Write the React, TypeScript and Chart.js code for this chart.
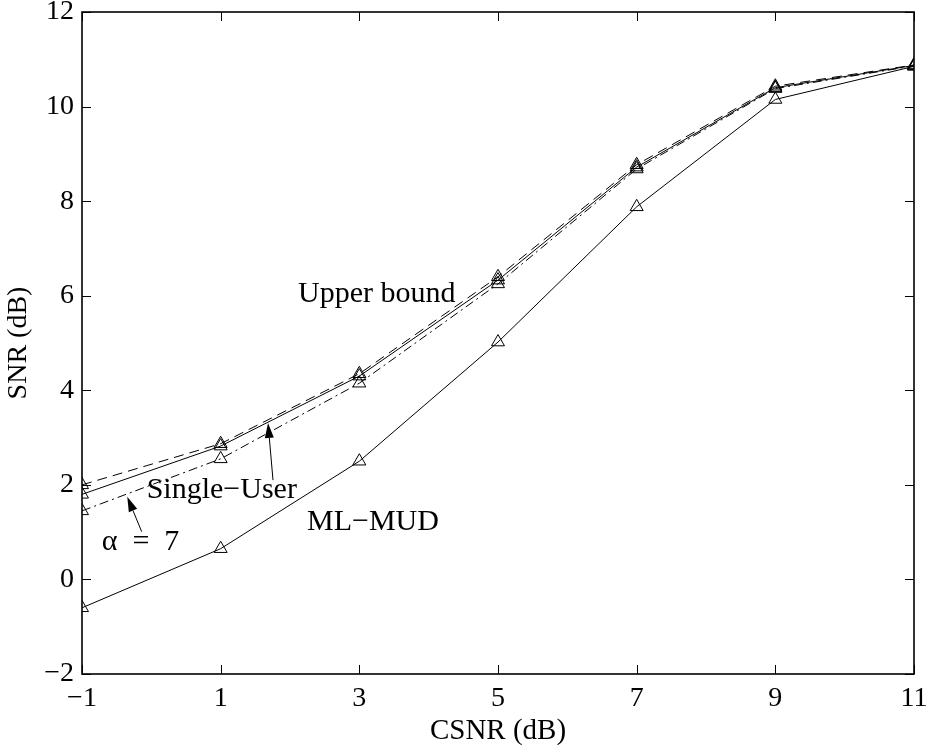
import React, { useEffect, useRef } from "react";
import { Chart, registerables } from "chart.js";

Chart.register(...registerables);

// CSNR (dB) sample points and the SNR (dB) of each receiver
const csnr = [-1, 1, 3, 5, 7, 9, 11];
const upperBound = [2.0, 2.87, 4.35, 6.4, 8.77, 10.43, 10.88];
const singleUser = [1.8, 2.82, 4.3, 6.33, 8.72, 10.4, 10.87];
const alpha7 = [1.45, 2.55, 4.15, 6.25, 8.68, 10.38, 10.86];
const mlMud = [-0.6, 0.65, 2.5, 5.02, 7.88, 10.15, 10.85];

// axis ticks
const xTicks = [-1, 1, 3, 5, 7, 9, 11];
const yTicks = [-2, 0, 2, 4, 6, 8, 10, 12];

const SERIF = "'Liberation Serif', 'Times New Roman', serif";

const toPoints = (ys: number[]) => csnr.map((x, i) => ({ x, y: ys[i] }));
const minus = (v: number) => String(v).replace("-", "\u2212");

// text labels placed in data coordinates (x = CSNR, y = SNR, baseline-left)
const labels = [
  { text: "Upper bound", x: 2.116, y: 5.87 },
  { text: "Single\u2212User", x: -0.067, y: 1.72 },
  { text: "ML\u2212MUD", x: 2.245, y: 1.045 },
  { text: "\u03b1  =  7", x: -0.716, y: 0.62 },
];

// arrows: from tail to tip, in data coordinates
const arrows = [
  { from: [1.755, 2.1], to: [1.683, 3.31] },
  { from: [-0.139, 1.01], to: [-0.347, 1.75] },
];

const framePlugin = {
  id: "frame",
  afterDraw(chart: any) {
    const { ctx, chartArea, scales } = chart;
    const { left, right, top, bottom } = chartArea;
    const xs = scales.x;
    const ys = scales.y;
    ctx.save();
    ctx.strokeStyle = "#000";

    // inward tick marks on all four sides
    ctx.lineWidth = 1;
    ctx.beginPath();
    const tl = 9;
    xTicks.forEach((v) => {
      const px = Math.round(xs.getPixelForValue(v)) + 0.5;
      ctx.moveTo(px, bottom);
      ctx.lineTo(px, bottom - tl);
      ctx.moveTo(px, top);
      ctx.lineTo(px, top + tl);
    });
    yTicks.forEach((v) => {
      const py = Math.round(ys.getPixelForValue(v)) + 0.5;
      ctx.moveTo(left, py);
      ctx.lineTo(left + tl, py);
      ctx.moveTo(right, py);
      ctx.lineTo(right - tl, py);
    });
    ctx.stroke();

    // axes box
    ctx.lineWidth = 1.6;
    ctx.strokeRect(left, top, right - left, bottom - top);

    // text labels
    ctx.fillStyle = "#000";
    ctx.font = `30px ${SERIF}`;
    ctx.textAlign = "left";
    ctx.textBaseline = "alphabetic";
    labels.forEach((l) => {
      ctx.fillText(l.text, xs.getPixelForValue(l.x), ys.getPixelForValue(l.y));
    });

    // arrows
    arrows.forEach((a) => {
      const x0 = xs.getPixelForValue(a.from[0]);
      const y0 = ys.getPixelForValue(a.from[1]);
      const x1 = xs.getPixelForValue(a.to[0]);
      const y1 = ys.getPixelForValue(a.to[1]);
      const ang = Math.atan2(y1 - y0, x1 - x0);
      const hl = 15;
      const hw = 4.5;
      const bx = x1 - Math.cos(ang) * hl;
      const by = y1 - Math.sin(ang) * hl;
      ctx.lineWidth = 1;
      ctx.beginPath();
      ctx.moveTo(x0, y0);
      ctx.lineTo(bx, by);
      ctx.stroke();
      ctx.beginPath();
      ctx.moveTo(x1, y1);
      ctx.lineTo(bx + Math.sin(ang) * hw, by - Math.cos(ang) * hw);
      ctx.lineTo(bx - Math.sin(ang) * hw, by + Math.cos(ang) * hw);
      ctx.closePath();
      ctx.fill();
    });
    ctx.restore();
  },
};

const lineStyle = (dash: number[]) => ({
  borderColor: "#000",
  borderWidth: 1,
  borderDash: dash,
  pointStyle: "triangle",
  pointRadius: 7.5,
  pointBorderColor: "#000",
  pointBackgroundColor: "rgba(0,0,0,0)",
  pointBorderWidth: 1,
  tension: 0,
  fill: false,
});

export default function App() {
  const canvasRef = useRef<HTMLCanvasElement | null>(null);

  useEffect(() => {
    if (!canvasRef.current) return;
    const chart = new Chart(canvasRef.current, {
      type: "line",
      data: {
        datasets: [
          { label: "Upper bound", data: toPoints(upperBound), ...lineStyle([10, 6]) },
          { label: "Single-User", data: toPoints(singleUser), ...lineStyle([]) },
          { label: "alpha = 7", data: toPoints(alpha7), ...lineStyle([9, 4, 2, 4]) },
          { label: "ML-MUD", data: toPoints(mlMud), ...lineStyle([]) },
        ],
      },
      options: {
        responsive: false,
        animation: false,
        devicePixelRatio: 1,
        layout: { padding: { left: 0, right: 15, top: 12, bottom: 0 } },
        plugins: {
          legend: { display: false },
          tooltip: { enabled: false },
        },
        scales: {
          x: {
            type: "linear",
            min: -1,
            max: 11,
            afterBuildTicks: (scale: any) => {
              scale.ticks = xTicks.map((v) => ({ value: v }));
            },
            afterFit: (scale: any) => {
              scale.height = 75;
              scale.paddingLeft = 0;
              scale.paddingRight = 0;
            },
            grid: { display: false, drawTicks: false },
            border: { display: false },
            ticks: {
              color: "#000",
              padding: 8,
              maxRotation: 0,
              font: { family: SERIF, size: 28 },
              callback: (v: any) => minus(Number(v)),
            },
            title: {
              display: true,
              text: "CSNR (dB)",
              color: "#000",
              font: { family: SERIF, size: 29 },
              padding: { top: 0, bottom: 0 },
            },
          },
          y: {
            type: "linear",
            min: -2,
            max: 12,
            afterBuildTicks: (scale: any) => {
              scale.ticks = yTicks.map((v) => ({ value: v }));
            },
            afterFit: (scale: any) => {
              scale.width = 82;
              scale.paddingTop = 0;
              scale.paddingBottom = 0;
            },
            grid: { display: false, drawTicks: false },
            border: { display: false },
            ticks: {
              color: "#000",
              padding: 8,
              font: { family: SERIF, size: 28 },
              callback: (v: any) => minus(Number(v)),
            },
            title: {
              display: true,
              text: "SNR (dB)",
              color: "#000",
              font: { family: SERIF, size: 28 },
              padding: { top: 2, bottom: 0 },
            },
          },
        },
      },
      plugins: [framePlugin],
    });
    return () => chart.destroy();
  }, []);

  return (
    <div style={{ position: "absolute", left: 0, top: 0, width: 929, height: 749, background: "#fff" }}>
      <canvas ref={canvasRef} width={929} height={749} />
    </div>
  );
}
